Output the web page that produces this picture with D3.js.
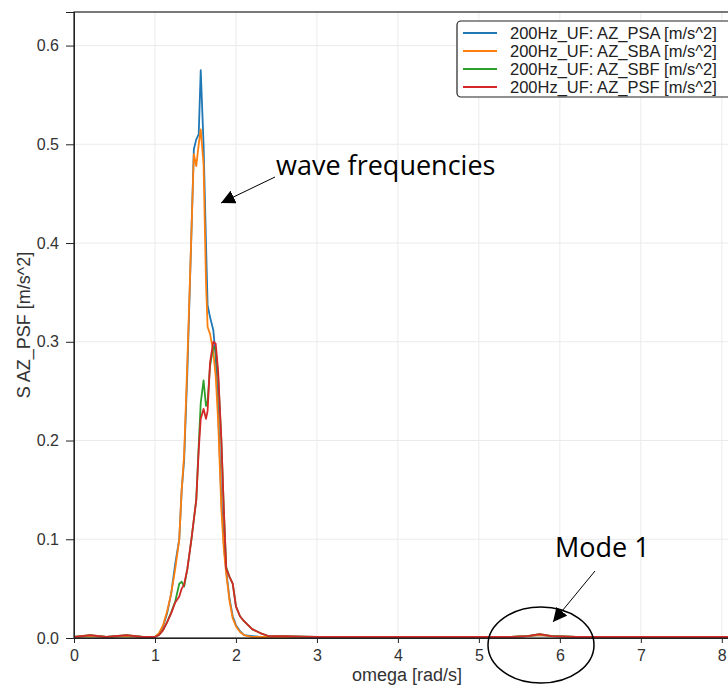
<!DOCTYPE html>
<html>
<head>
<meta charset="utf-8">
<script src="https://cdn.jsdelivr.net/npm/d3@7"></script>
<style>
  body { margin: 0; background: #fff; }
  .axis text { font-family: "Liberation Sans", Arial, sans-serif; font-size: 16px; fill: #333; }
  .axis path, .axis line { stroke: #222; }
</style>
</head>
<body>
<script>
// omega grid [rad/s]
var omega = [0, 0.2, 0.4, 0.65, 0.85, 1.0, 1.05, 1.1, 1.15, 1.2, 1.25, 1.3, 1.33, 1.36, 1.4, 1.45, 1.48, 1.51, 1.54, 1.565,
    1.6, 1.63, 1.65, 1.68, 1.72, 1.75, 1.78, 1.82, 1.85, 1.88, 1.92, 1.96, 2.0, 2.05, 2.1, 2.2, 2.3, 2.4, 2.6, 3.0,
    3.5, 4.0, 4.5, 5.0, 5.4, 5.6, 5.75, 5.9, 6.2, 6.6, 7.0, 7.5, 8.0, 8.3];

var psa = [0.001, 0.002, 0.001, 0.002, 0.001, 0.001, 0.004, 0.012, 0.025, 0.045, 0.075, 0.100, 0.150, 0.180, 0.270, 0.410, 0.495, 0.505, 0.510, 0.575,
    0.500, 0.400, 0.337, 0.325, 0.312, 0.285, 0.230, 0.140, 0.095, 0.068, 0.040, 0.022, 0.013, 0.007, 0.003, 0.002, 0.001, 0.001, 0.001, 0.001,
    0.001, 0.001, 0.001, 0.001, 0.001, 0.002, 0.003, 0.002, 0.001, 0.001, 0.001, 0.001, 0.001, 0.001];

var sba = [0.001, 0.002, 0.001, 0.002, 0.001, 0.001, 0.005, 0.013, 0.027, 0.045, 0.070, 0.100, 0.150, 0.185, 0.280, 0.410, 0.490, 0.478, 0.500, 0.515,
    0.480, 0.360, 0.315, 0.308, 0.290, 0.265, 0.220, 0.130, 0.090, 0.065, 0.038, 0.020, 0.012, 0.006, 0.003, 0.001, 0.001, 0.001, 0.001, 0.001,
    0.001, 0.001, 0.001, 0.001, 0.001, 0.002, 0.003, 0.002, 0.001, 0.001, 0.001, 0.001, 0.001, 0.001];

var sbf = [0.001, 0.003, 0.001, 0.003, 0.001, 0.001, 0.003, 0.008, 0.016, 0.026, 0.037, 0.055, 0.057, 0.052, 0.070, 0.100, 0.120, 0.140, 0.195, 0.238,
    0.261, 0.235, 0.240, 0.275, 0.295, 0.292, 0.265, 0.200, 0.130, 0.072, 0.062, 0.055, 0.032, 0.022, 0.017, 0.009, 0.005, 0.002, 0.002, 0.001,
    0.001, 0.001, 0.001, 0.001, 0.001, 0.002, 0.004, 0.002, 0.001, 0.001, 0.001, 0.001, 0.001, 0.001];

var psf = [0.001, 0.003, 0.001, 0.003, 0.001, 0.001, 0.003, 0.008, 0.016, 0.025, 0.036, 0.042, 0.050, 0.054, 0.070, 0.100, 0.120, 0.140, 0.190, 0.222,
    0.232, 0.222, 0.230, 0.279, 0.300, 0.298, 0.270, 0.200, 0.130, 0.070, 0.062, 0.055, 0.032, 0.022, 0.017, 0.009, 0.005, 0.002, 0.002, 0.001,
    0.001, 0.001, 0.001, 0.001, 0.001, 0.002, 0.004, 0.002, 0.001, 0.001, 0.001, 0.001, 0.001, 0.001];

var seriesNames = ["200Hz_UF: AZ_PSA [m/s^2]", "200Hz_UF: AZ_SBA [m/s^2]", "200Hz_UF: AZ_SBF [m/s^2]", "200Hz_UF: AZ_PSF [m/s^2]"];
var seriesColors = ["#1f77b4", "#ff7f0e", "#2ca02c", "#d62728"];
var xTicks = [0, 1, 2, 3, 4, 5, 6, 7, 8];
var yTicks = [0, 0.1, 0.2, 0.3, 0.4, 0.5, 0.6];

var W = 728, H = 688;
var plotL = 74, plotT = 12, plotR = 738, plotB = 638;

var svg = d3.select("body").append("svg")
    .attr("width", W)
    .attr("height", H);

var x = d3.scaleLinear().domain([0, 8.2]).range([plotL, plotR]);
var y = d3.scaleLinear().domain([0, 0.634]).range([plotB, plotT]);

// grid
svg.append("g").selectAll("line").data(xTicks).enter().append("line")
    .attr("x1", x).attr("x2", x).attr("y1", plotT).attr("y2", plotB)
    .attr("stroke", "#ebebeb");
svg.append("g").selectAll("line").data(yTicks).enter().append("line")
    .attr("x1", plotL).attr("x2", plotR).attr("y1", y).attr("y2", y)
    .attr("stroke", "#ebebeb");

// lines
var data = [psa, sba, sbf, psf];
var line = d3.line()
    .x(function(d, i) { return x(omega[i]); })
    .y(function(d) { return y(d); });

svg.append("g").selectAll("path").data(data).enter().append("path")
    .attr("d", line)
    .attr("fill", "none")
    .attr("stroke", function(d, i) { return seriesColors[i]; })
    .attr("stroke-width", 1.8)
    .attr("stroke-linejoin", "round");

// frame
svg.append("rect")
    .attr("x", plotL).attr("y", plotT)
    .attr("width", plotR - plotL).attr("height", plotB - plotT)
    .attr("fill", "none").attr("stroke", "#222").attr("stroke-width", 1.2);

// axes
svg.append("g")
    .attr("class", "axis")
    .attr("transform", "translate(0," + plotB + ")")
    .call(d3.axisBottom(x).tickValues(xTicks).tickFormat(d3.format("d")).tickSizeOuter(0).tickSize(5).tickPadding(7));

svg.append("g")
    .attr("class", "axis")
    .attr("transform", "translate(" + plotL + ",0)")
    .call(d3.axisLeft(y).tickValues(yTicks).tickFormat(d3.format(".1f")).tickSizeOuter(0).tickSize(8).tickPadding(7));

svg.append("text")
    .attr("x", 407).attr("y", 681)
    .attr("text-anchor", "middle")
    .attr("font-family", "Liberation Sans, Arial, sans-serif")
    .attr("font-size", 18).attr("fill", "#333")
    .text("omega [rad/s]");

svg.append("text")
    .attr("transform", "translate(30,325) rotate(-90)")
    .attr("text-anchor", "middle")
    .attr("font-family", "Liberation Sans, Arial, sans-serif")
    .attr("font-size", 18).attr("fill", "#333")
    .text("S AZ_PSF [m/s^2]");

// legend
var legend = svg.append("g");
legend.append("rect")
    .attr("x", 457).attr("y", 21)
    .attr("width", 300).attr("height", 76)
    .attr("rx", 4)
    .attr("fill", "#fff").attr("stroke", "#222").attr("stroke-width", 1.2);

var item = legend.selectAll("g").data(seriesNames).enter().append("g")
    .attr("transform", function(d, i) { return "translate(0," + (33 + i * 18) + ")"; });
item.append("line")
    .attr("x1", 463).attr("x2", 497)
    .attr("stroke", function(d, i) { return seriesColors[i]; })
    .attr("stroke-width", 1.8);
item.append("text")
    .attr("x", 510).attr("y", 5.5)
    .attr("font-family", "Liberation Sans, Arial, sans-serif")
    .attr("font-size", 16.5).attr("fill", "#222")
    .text(function(d) { return d; });

// annotations
svg.append("defs").append("marker")
    .attr("id", "head")
    .attr("viewBox", "0 0 10 10")
    .attr("refX", 10).attr("refY", 5)
    .attr("markerWidth", 14).attr("markerHeight", 14)
    .attr("markerUnits", "userSpaceOnUse")
    .attr("orient", "auto")
    .append("path")
    .attr("d", "M0,0 L10,5 L0,10 z")
    .attr("fill", "#000");

svg.append("line")
    .attr("x1", 275).attr("y1", 177).attr("x2", 221).attr("y2", 203)
    .attr("stroke", "#000").attr("stroke-width", 1)
    .attr("marker-end", "url(#head)");

svg.append("text")
    .attr("x", 276).attr("y", 175)
    .attr("font-family", "Open Sans, sans-serif")
    .attr("font-size", 27).attr("fill", "#000")
    .text("wave frequencies");

svg.append("text")
    .attr("x", 555).attr("y", 557)
    .attr("font-family", "Open Sans, sans-serif")
    .attr("font-size", 27).attr("fill", "#000")
    .text("Mode 1");

svg.append("line")
    .attr("x1", 595).attr("y1", 571).attr("x2", 553).attr("y2", 622)
    .attr("stroke", "#000").attr("stroke-width", 1)
    .attr("marker-end", "url(#head)");

svg.append("ellipse")
    .attr("cx", 541).attr("cy", 645)
    .attr("rx", 53).attr("ry", 38)
    .attr("fill", "none").attr("stroke", "#000").attr("stroke-width", 1.5);
</script>
</body>
</html>
